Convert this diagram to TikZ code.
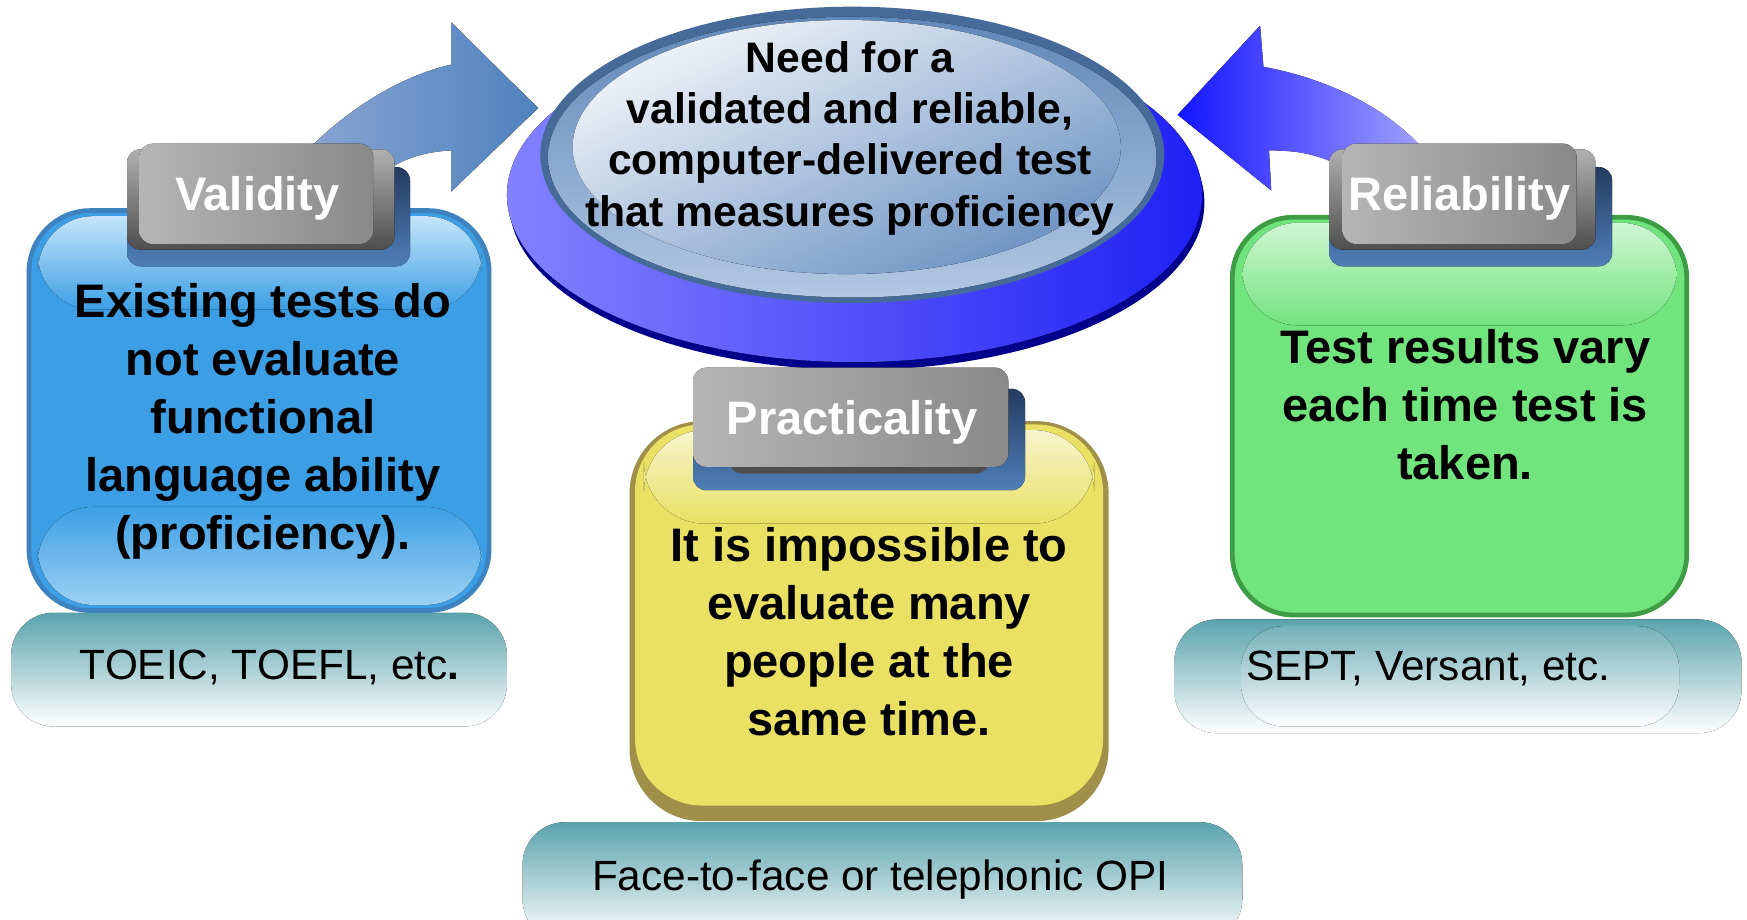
\documentclass[tikz,border=0pt]{standalone}
\usepackage{fontspec}
\setmainfont{Liberation Sans}
\usetikzlibrary{positioning}

\definecolor{vlblue}{HTML}{3C9FE5}
\definecolor{vledge}{HTML}{3F82C0}
\definecolor{vlgloss}{HTML}{C4E5FA}
\definecolor{vlglow}{HTML}{9DD0F3}
\definecolor{rlgreen}{HTML}{72E47E}
\definecolor{rledge}{HTML}{3E9C44}
\definecolor{rlgloss}{HTML}{CFF6D2}
\definecolor{pryellow}{HTML}{E9E064}
\definecolor{predge}{HTML}{A08F48}
\definecolor{prgloss}{HTML}{F8F4CC}
\definecolor{tealtop}{HTML}{5AA3AD}
\definecolor{tealin}{HTML}{74B0B9}
\definecolor{tabnavy}{HTML}{243B60}
\definecolor{tabblue}{HTML}{4F7FB8}
\definecolor{tabrimlt}{HTML}{B0B0B0}
\definecolor{tabrimdk}{HTML}{4E4E4E}
\definecolor{tabfacel}{HTML}{B5B5B5}
\definecolor{tabfacer}{HTML}{898989}
\definecolor{arrowsoft}{HTML}{8CA6D3}
\definecolor{arrowdeep}{HTML}{4F82BE}
\definecolor{arrowvivid}{HTML}{1414FF}
\definecolor{arrowpale}{HTML}{AAAAFF}
\definecolor{disklt}{HTML}{8282FF}
\definecolor{diskdk}{HTML}{2020F5}
\definecolor{disknavy}{HTML}{00008C}
\definecolor{lensrim}{HTML}{476B99}
\definecolor{lenslow}{HTML}{B2C8E3}
\definecolor{lensmid}{HTML}{5F87B8}
\definecolor{lenshi}{HTML}{F0F4F9}
\definecolor{lensdk}{HTML}{6D93C3}

\begin{document}
\begin{tikzpicture}[x=0.01cm, y=-0.01cm,
    tabshadow/.style={rounded corners=0.12cm, top color=tabnavy, bottom color=tabblue},
    tabrim/.style={rounded corners=0.12cm, top color=tabrimlt, bottom color=tabrimdk},
    tabface/.style={rounded corners=0.12cm, left color=tabfacel, right color=tabfacer},
    tablabel/.style={text=white, font=\bfseries\fontsize{12}{14}\selectfont},
    boxtext/.style={align=center, font=\bfseries\fontsize{12}{14.8}\selectfont},
    basebox/.style={rounded corners=0.38cm, top color=tealtop, bottom color=white},
    basetext/.style={font=\fontsize{10.8}{13}\selectfont}
  ]
    \useasboundingbox (0,0) rectangle (1568,825);

    % curved arrows into the centre
    \fill[left color=arrowsoft, right color=arrowdeep]
      (262,150) .. controls (305,100) and (360,68) .. (405,58) -- (405,20) -- (483,97)
      -- (405,172) -- (405,135) .. controls (385,136) and (362,141) .. (345,155) -- cycle;
    \fill[left color=arrowvivid, right color=arrowpale]
      (1290,150) .. controls (1260,105) and (1200,72) .. (1134,60) -- (1131,23) -- (1057,103)
      -- (1141,171) -- (1139,135) .. controls (1165,135) and (1185,138) .. (1215,155) -- cycle;

    % centre disk
    \fill[disknavy] (769,182) ellipse [x radius=312, y radius=150];
    \fill[left color=disklt, right color=diskdk] (767,175) ellipse [x radius=312, y radius=150];
    \fill[lensrim] (765,139) ellipse [x radius=280, y radius=133];
    \fill[top color=lensmid, bottom color=lenslow] (765,141) ellipse [x radius=273, y radius=126];
    \fill[top color=lenshi, bottom color=lensdk, shading angle=25] (760,132) ellipse [x radius=246, y radius=114];
    \node[align=center, font=\bfseries\fontsize{10.9}{13.1}\selectfont] (need) at (763,124)
      {Need for a\\validated and reliable,\\computer-delivered test\\that measures proficiency};

    % bases
    \fill[basebox] (10,550) rectangle (455,652);
    \fill[basebox] (1054,556) rectangle (1563,658);
    \fill[rounded corners=0.38cm, top color=tealin, bottom color=white] (1114,562) rectangle (1507,652);
    \fill[basebox] (469,738) rectangle (1115,845);
    \node[basetext] (vlbase) at (242,599) {TOEIC, TOEFL, etc\textbf{.}};
    \node[basetext] (rlbase) at (1282,600) {SEPT, Versant, etc.};
    \node[basetext] (prbase) at (790,789) {Face-to-face or telephonic OPI};

    % validity box
    \filldraw[draw=vledge, line width=1.2pt, fill=vlblue, rounded corners=0.55cm] (26,189) rectangle (439,548);
    \fill[rounded corners=0.5cm, top color=vlgloss, bottom color=vlblue] (34,194) rectangle (432,278);
    \fill[rounded corners=0.5cm, top color=vlblue, bottom color=vlglow] (34,455) rectangle (432,543);
    \fill[tabshadow] (114,150) rectangle (368,239);
    \fill[tabrim] (114,134) rectangle (354,224);
    \fill[tabface] (125,129) rectangle (335,219);
    \node[tablabel] (vl) at (231,178) {Validity};
    \node[boxtext] (vltext) at (236,378)
      {Existing tests do\\not evaluate\\functional\\language ability\\(proficiency).};

    % practicality box
    \fill[predge, rounded corners=0.65cm] (565,378) rectangle (995,737);
    \fill[pryellow, rounded corners=0.6cm] (570,381) rectangle (990,723);
    \fill[rounded corners=0.55cm, top color=prgloss, bottom color=pryellow] (578,386) rectangle (982,470);
    \fill[tabshadow] (622,349) rectangle (920,440);
    \fill[tabrimdk, rounded corners=0.12cm] (654,335) rectangle (888,425);
    \fill[tabface] (622,330) rectangle (905,419);
    \node[tablabel] (pr) at (765,379) {Practicality};
    \node[boxtext] (prtext) at (780,567)
      {It is impossible to\\evaluate many\\people at the\\same time.};

    % reliability box
    \filldraw[draw=rledge, line width=1.2pt, fill=rlgreen, rounded corners=0.55cm] (1106,195) rectangle (1514,552);
    \fill[rounded corners=0.5cm, top color=rlgloss, bottom color=rlgreen] (1115,200) rectangle (1505,292);
    \fill[tabshadow] (1193,150) rectangle (1447,239);
    \fill[tabrim] (1193,134) rectangle (1432,224);
    \fill[tabface] (1205,129) rectangle (1415,219);
    \node[tablabel] (rl) at (1310,178) {Reliability};
    \node[boxtext] (rltext) at (1315,363)
      {Test results vary\\each time test is\\taken.};
\end{tikzpicture}
\end{document}
